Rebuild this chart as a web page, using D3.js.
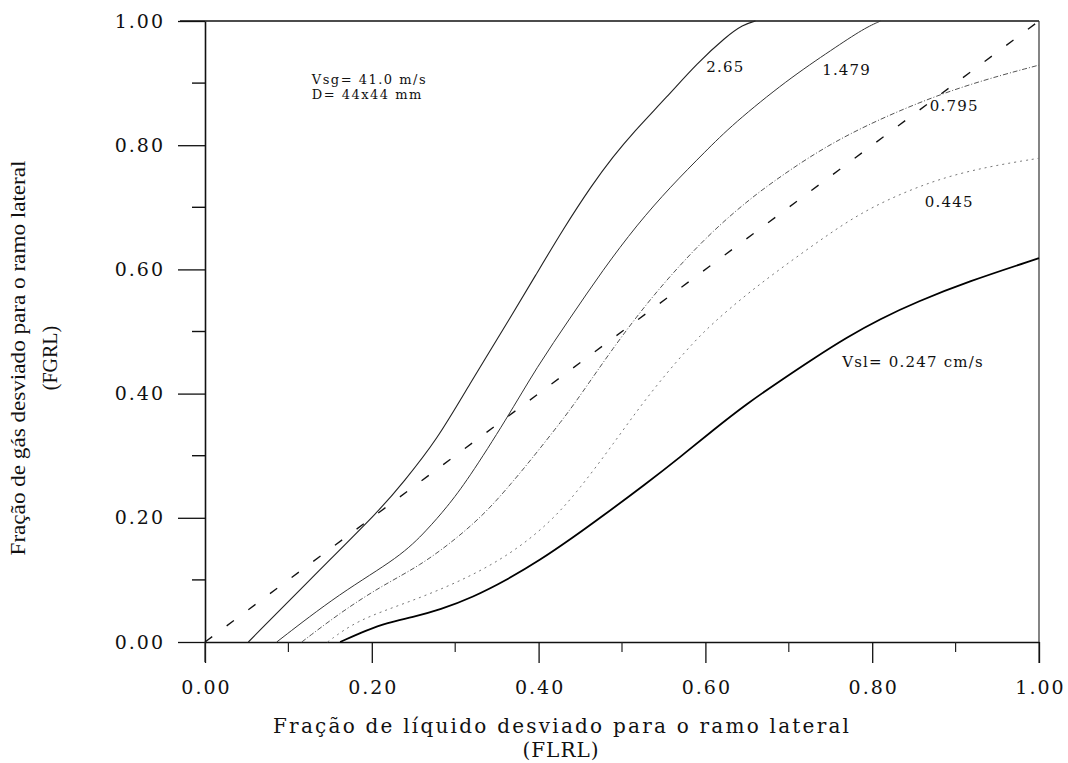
<!DOCTYPE html>
<html>
<head>
<meta charset="utf-8">
<script src="https://cdn.jsdelivr.net/npm/d3@7"></script>
<style>
  body { margin: 0; background: #fff; }
  svg { display: block; }
  .tick text { font-family: "DejaVu Serif", serif; font-size: 19px; letter-spacing: 2px; fill: #111; }
</style>
</head>
<body>
<div id="chart"></div>
<script>
// curves: [FLRL, FGRL], one per liquid velocity
var vsl265 = [[0.052,0],[0.141,0.121],[0.21,0.213],[0.237,0.256],[0.278,0.325],[0.318,0.417],[0.357,0.502],[0.398,0.594],[0.429,0.664],[0.465,0.738],[0.489,0.781],[0.513,0.82],[0.554,0.878],[0.59,0.932],[0.625,0.975],[0.645,0.994],[0.66,1.0]];
var vsl1479 = [[0.086,0],[0.162,0.079],[0.234,0.137],[0.266,0.18],[0.29,0.217],[0.315,0.261],[0.362,0.36],[0.398,0.443],[0.438,0.522],[0.477,0.599],[0.518,0.672],[0.558,0.733],[0.60,0.79],[0.633,0.834],[0.698,0.905],[0.753,0.955],[0.79,0.988],[0.81,1.0]];
var vsl0795 = [[0.116,0],[0.162,0.047],[0.21,0.089],[0.258,0.123],[0.302,0.167],[0.338,0.21],[0.369,0.258],[0.39,0.292],[0.429,0.358],[0.45,0.397],[0.489,0.473],[0.53,0.546],[0.57,0.608],[0.609,0.662],[0.65,0.71],[0.69,0.75],[0.753,0.806],[0.833,0.857],[0.914,0.898],[1.0,0.929]];
var vsl0445 = [[0.147,0],[0.182,0.035],[0.242,0.063],[0.302,0.095],[0.362,0.137],[0.414,0.192],[0.45,0.248],[0.489,0.318],[0.53,0.395],[0.578,0.472],[0.609,0.514],[0.653,0.564],[0.701,0.612],[0.749,0.658],[0.797,0.7],[0.873,0.744],[0.94,0.766],[1.0,0.779]];
var vsl0247 = [[0.162,0],[0.194,0.019],[0.218,0.031],[0.249,0.04],[0.282,0.052],[0.321,0.072],[0.362,0.10],[0.402,0.132],[0.441,0.168],[0.474,0.2],[0.53,0.256],[0.57,0.298],[0.609,0.341],[0.65,0.384],[0.689,0.42],[0.729,0.456],[0.77,0.491],[0.809,0.52],[0.854,0.548],[0.914,0.58],[1.0,0.618]];
var diagonal = [[0,0],[1,1]];

var majorTicks = [0, 0.2, 0.4, 0.6, 0.8, 1.0];
var minorTicks = [0.1, 0.3, 0.5, 0.7, 0.9];

var curveLabels = ["2.65", "1.479", "0.795", "0.445", "Vsl= 0.247 cm/s"];
var curveLabelAt = [[0.601,0.918],[0.740,0.913],[0.869,0.855],[0.863,0.700],[0.764,0.443]];
var noteLines = ["Vsg= 41.0 m/s", "D= 44x44 mm"];
var noteAt = [[0.128,0.898],[0.128,0.875]];

var xTitle = ["Fração de líquido desviado para o ramo lateral", "(FLRL)"];
var yTitle = ["Fração de gás desviado para o ramo lateral", "(FGRL)"];

var width = 1068, height = 763;
var x0 = 205, x1 = 1039, yTop = 21, yBot = 642;

var svg = d3.select("#chart").append("svg")
    .attr("width", width)
    .attr("height", height);

var x = d3.scaleLinear().domain([0, 1]).range([x0, x1]);
var y = d3.scaleLinear().domain([0, 1]).range([yBot, yTop]);

// frame: top and right lines
svg.append("line").attr("x1", x(0) - 25).attr("x2", x(1)).attr("y1", y(1)).attr("y2", y(1))
    .attr("stroke", "#111").attr("stroke-width", 1.6);
svg.append("line").attr("x1", x(1)).attr("x2", x(1)).attr("y1", y(1)).attr("y2", y(0) + 21)
    .attr("stroke", "#333").attr("stroke-width", 1.2);

// axes
var fmt = d3.format(".2f");
var xAxis = svg.append("g").attr("transform", "translate(0," + yBot + ")")
    .call(d3.axisBottom(x).tickValues(majorTicks).tickFormat(fmt).tickSize(21).tickSizeOuter(0).tickPadding(18));
var yAxis = svg.append("g").attr("transform", "translate(" + x0 + ",0)")
    .call(d3.axisLeft(y).tickValues(majorTicks).tickFormat(fmt).tickSize(27).tickSizeOuter(0).tickPadding(13));

[xAxis, yAxis].forEach(function (g) {
    g.select(".domain").attr("stroke", "#111").attr("stroke-width", 1.6);
    g.selectAll(".tick line").attr("stroke", "#111").attr("stroke-width", 1.3);
});
xAxis.selectAll(".tick text").attr("dx", "1px");
// left axis runs a little below the bottom line, like the original
svg.append("line").attr("x1", x0).attr("x2", x0).attr("y1", yBot).attr("y2", yBot + 20)
    .attr("stroke", "#222").attr("stroke-width", 1.2);

// minor ticks
svg.append("g").selectAll("line").data(minorTicks).enter().append("line")
    .attr("x1", function (d) { return x(d); }).attr("x2", function (d) { return x(d); })
    .attr("y1", yBot).attr("y2", yBot + 10)
    .attr("stroke", "#222").attr("stroke-width", 1.2);
svg.append("g").selectAll("line").data(minorTicks).enter().append("line")
    .attr("y1", function (d) { return y(d); }).attr("y2", function (d) { return y(d); })
    .attr("x1", x0 - 13).attr("x2", x0)
    .attr("stroke", "#111").attr("stroke-width", 1.4);

// curves
var line = d3.line()
    .x(function (d) { return x(d[0]); })
    .y(function (d) { return y(d[1]); })
    .curve(d3.curveBasis);

var series = [
    { data: diagonal, color: "#111", w: 1.3, dash: "9,18" },
    { data: vsl265, color: "#222", w: 1.1, dash: null },
    { data: vsl1479, color: "#333", w: 1.0, dash: null },
    { data: vsl0795, color: "#555", w: 1.0, dash: "5,2,1,2" },
    { data: vsl0445, color: "#777", w: 1.0, dash: "2,4" },
    { data: vsl0247, color: "#000", w: 1.8, dash: null }
];

svg.append("g").selectAll("path").data(series).enter().append("path")
    .attr("d", function (d) { return line(d.data); })
    .attr("fill", "none")
    .attr("stroke", function (d) { return d.color; })
    .attr("stroke-width", function (d) { return d.w; })
    .attr("stroke-dasharray", function (d) { return d.dash; });

// curve labels and notes
svg.append("g").selectAll("text").data(curveLabels).enter().append("text")
    .attr("x", function (d, i) { return x(curveLabelAt[i][0]); })
    .attr("y", function (d, i) { return y(curveLabelAt[i][1]); })
    .attr("font-family", "DejaVu Serif, serif").attr("font-size", "15px")
    .attr("letter-spacing", "1.2px").attr("fill", "#111")
    .text(function (d) { return d; });

svg.append("g").selectAll("text").data(noteLines).enter().append("text")
    .attr("x", function (d, i) { return x(noteAt[i][0]); })
    .attr("y", function (d, i) { return y(noteAt[i][1]); })
    .attr("font-family", "DejaVu Serif, serif").attr("font-size", "13px")
    .attr("letter-spacing", "1.5px").attr("fill", "#111")
    .text(function (d) { return d; });

// axis titles
svg.append("text")
    .attr("x", 561).attr("y", 733)
    .attr("text-anchor", "middle")
    .attr("font-family", "DejaVu Serif, serif").attr("font-size", "20px")
    .attr("textLength", 576).attr("lengthAdjust", "spacing")
    .attr("fill", "#111")
    .text(xTitle[0]);
svg.append("text")
    .attr("x", 561).attr("y", 757)
    .attr("text-anchor", "middle")
    .attr("font-family", "DejaVu Serif, serif").attr("font-size", "20px")
    .attr("letter-spacing", "1px")
    .attr("fill", "#111")
    .text(xTitle[1]);

svg.append("text")
    .attr("transform", "translate(25,358) rotate(-90)")
    .attr("text-anchor", "middle")
    .attr("font-family", "Liberation Serif, serif").attr("font-size", "20px")
    .attr("textLength", 395).attr("lengthAdjust", "spacingAndGlyphs")
    .attr("fill", "#111")
    .text(yTitle[0]);
svg.append("text")
    .attr("transform", "translate(57,358) rotate(-90)")
    .attr("text-anchor", "middle")
    .attr("font-family", "Liberation Serif, serif").attr("font-size", "20px")
    .attr("fill", "#111")
    .text(yTitle[1]);
</script>
</body>
</html>
